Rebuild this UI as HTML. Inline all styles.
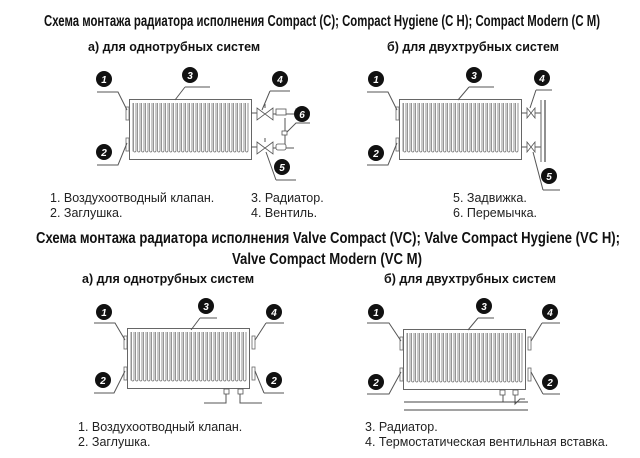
<!DOCTYPE html>
<html><head><meta charset="utf-8"><style>
html,body{margin:0;padding:0;background:#fff;width:640px;height:458px;overflow:hidden}
svg{display:block}
.t{font-family:"Liberation Sans",sans-serif;font-weight:bold;font-size:16px;fill:#111}
.s{font-family:"Liberation Sans",sans-serif;font-weight:bold;font-size:12.5px;fill:#111}
.l{font-family:"Liberation Sans",sans-serif;font-size:12.5px;fill:#222}
.b{font-family:"Liberation Sans",sans-serif;font-weight:bold;font-style:italic;font-size:10px;fill:#fff;text-anchor:middle}
.ln{stroke:#555;stroke-width:1;fill:none}
</style></head><body>
<svg width="640" height="458" viewBox="0 0 640 458" xmlns="http://www.w3.org/2000/svg">
<defs>
<pattern id="fin" x="0" y="0" width="4" height="60" patternUnits="userSpaceOnUse">
<rect x="0.5" y="0" width="2.5" height="53" rx="1.2" fill="#fff" stroke="#666" stroke-width="0.7"/>
</pattern>
<g id="rad">
<rect x="0.5" y="0.5" width="122" height="60" fill="#fff" stroke="#666" stroke-width="1"/>
<rect x="3" y="4" width="117" height="53" fill="url(#fin)"/>
</g>
</defs>
<text class="t" x="44" y="26" textLength="556" lengthAdjust="spacingAndGlyphs">Схема монтажа радиатора исполнения Compact (C); Compact Hygiene (C H); Compact Modern (C M)</text>
<text class="s" x="88" y="51">а) для однотрубных систем</text>
<text class="s" x="387" y="51">б) для двухтрубных систем</text>

<!-- top left -->
<use href="#rad" x="129" y="99"/>
<rect x="126" y="107" width="3" height="13" fill="#fff" stroke="#666" stroke-width="0.8"/>
<rect x="126" y="138" width="3" height="13" fill="#fff" stroke="#666" stroke-width="0.8"/>
<path class="ln" d="M97,92 H118 L127,110 M97,165 H118 L127,143 M185,87 H210 M185,87 L175,100 M251,113 H257 M251,147 H257"/>
<path class="ln" d="M270,91 H290 M270,91 L262,110 M276,180 H296 M276,180 L266,152"/>
<path d="M257,108 L265,114 L257,120 Z M273,108 L265,114 L273,120 Z M257,142 L265,148 L257,154 Z M273,142 L265,148 L273,154 Z" fill="#fff" stroke="#555" stroke-width="0.8"/>
<path class="ln" d="M265,108 V104 M265,142 V138 M273,114 H294 M273,148 H294 M285,118 V144 M296,112 H310 M296,116 V109 H300"/>
<rect x="276" y="109" width="10" height="6" fill="#fff" stroke="#555" stroke-width="0.8"/>
<rect x="276" y="144" width="10" height="6" rx="2" fill="#fff" stroke="#555" stroke-width="0.8"/>
<rect x="282" y="131" width="5" height="4" fill="#fff" stroke="#555" stroke-width="0.8"/>
<path class="ln" d="M287,132 L296,123 H310 M288,114 H294 M288,148 H294"/>

<!-- top right -->
<use href="#rad" x="399" y="99"/>
<rect x="396" y="107" width="3" height="13" fill="#fff" stroke="#666" stroke-width="0.8"/>
<rect x="396" y="138" width="3" height="13" fill="#fff" stroke="#666" stroke-width="0.8"/>
<path class="ln" d="M367,92 H388 L397,110 M367,165 H388 L397,143 M469,87 H494 M469,87 L458,100 M521,113 H527 M521,147 H527 M535,113 H541 M535,147 H541"/>
<path d="M527,108 L531,113 L527,118 Z M535,108 L531,113 L535,118 Z M527,142 L531,147 L527,152 Z M535,142 L531,147 L535,152 Z" fill="#fff" stroke="#555" stroke-width="0.8"/>
<path class="ln" d="M536,90 H552 M536,90 L530,108 M543,190 H560 M543,190 L533,152"/>
<path d="M541,100 V162" stroke="#666" stroke-width="1"/>
<path d="M545,100 V162" stroke="#222" stroke-width="1"/>

<!-- list top -->
<text class="l" x="50" y="202">1. Воздухоотводный клапан.</text>
<text class="l" x="50" y="217">2. Заглушка.</text>
<text class="l" x="251" y="202">3. Радиатор.</text>
<text class="l" x="251" y="217">4. Вентиль.</text>
<text class="l" x="453" y="202">5. Задвижка.</text>
<text class="l" x="453" y="217">6. Перемычка.</text>

<text class="t" x="36" y="243" textLength="584" lengthAdjust="spacingAndGlyphs">Схема монтажа радиатора исполнения Valve Compact (VC); Valve Compact Hygiene (VC H);</text>
<text class="t" x="232" y="264" textLength="190" lengthAdjust="spacingAndGlyphs">Valve Compact Modern (VC M)</text>
<text class="s" x="82" y="283">а) для однотрубных систем</text>
<text class="s" x="384" y="283">б) для двухтрубных систем</text>

<!-- bottom left -->
<use href="#rad" x="127" y="328"/>
<rect x="124" y="336" width="3" height="13" fill="#fff" stroke="#666" stroke-width="0.8"/>
<rect x="124" y="367" width="3" height="13" fill="#fff" stroke="#666" stroke-width="0.8"/>
<rect x="252" y="336" width="3" height="13" fill="#fff" stroke="#666" stroke-width="0.8"/>
<rect x="252" y="367" width="3" height="13" fill="#fff" stroke="#666" stroke-width="0.8"/>
<path class="ln" d="M94,323 H115 L125,340 M94,393 H114 L125,371 M200,318 H217 M200,318 L191,330 M266,323 H284 M266,323 L255,340 M264,393 H284 M264,393 L255,371"/>
<rect x="224" y="389" width="5" height="5" fill="#fff" stroke="#555" stroke-width="0.8"/>
<rect x="238" y="389" width="5" height="5" fill="#fff" stroke="#555" stroke-width="0.8"/>
<path class="ln" d="M226,394 V403 H204 M240,394 V403 H262"/>

<!-- bottom right -->
<use href="#rad" x="403" y="329"/>
<rect x="400" y="337" width="3" height="13" fill="#fff" stroke="#666" stroke-width="0.8"/>
<rect x="400" y="368" width="3" height="13" fill="#fff" stroke="#666" stroke-width="0.8"/>
<rect x="528" y="337" width="3" height="13" fill="#fff" stroke="#666" stroke-width="0.8"/>
<rect x="528" y="368" width="3" height="13" fill="#fff" stroke="#666" stroke-width="0.8"/>
<path class="ln" d="M367,323 H389 L401,341 M367,394 H389 L401,372 M478,318 H494 M478,318 L468,330 M542,323 H560 M542,323 L531,341 M543,394 H560 M543,394 L531,372"/>
<rect x="500" y="390" width="5" height="5" fill="#fff" stroke="#555" stroke-width="0.8"/>
<rect x="513" y="390" width="5" height="5" fill="#fff" stroke="#555" stroke-width="0.8"/>
<path class="ln" d="M503,395 V402 M515,395 V404 L520,399 H525"/>
<path d="M404,402 H528 M404,410 H528" stroke="#444" stroke-width="1"/>

<!-- bubbles -->
<g fill="#111">
<circle cx="104" cy="79" r="8"/><circle cx="190" cy="75" r="8"/><circle cx="280" cy="79" r="8"/><circle cx="302" cy="114" r="8"/><circle cx="104" cy="152" r="8"/><circle cx="282" cy="167" r="8"/>
<circle cx="376" cy="79" r="8"/><circle cx="474" cy="75" r="8"/><circle cx="542" cy="78" r="8"/><circle cx="376" cy="153" r="8"/><circle cx="549" cy="176" r="8"/>
<circle cx="104" cy="312" r="8"/><circle cx="206" cy="306" r="8"/><circle cx="274" cy="312" r="8"/><circle cx="103" cy="380" r="8"/><circle cx="274" cy="380" r="8"/>
<circle cx="376" cy="312" r="8"/><circle cx="484" cy="306" r="8"/><circle cx="550" cy="312" r="8"/><circle cx="376" cy="382" r="8"/><circle cx="550" cy="382" r="8"/>
</g>
<g>
<text x="104" y="83" class="b">1</text><text x="190" y="79" class="b">3</text><text x="280" y="83" class="b">4</text><text x="302" y="118" class="b">6</text><text x="104" y="156" class="b">2</text><text x="282" y="171" class="b">5</text>
<text x="376" y="83" class="b">1</text><text x="474" y="79" class="b">3</text><text x="542" y="82" class="b">4</text><text x="376" y="157" class="b">2</text><text x="549" y="180" class="b">5</text>
<text x="104" y="316" class="b">1</text><text x="206" y="310" class="b">3</text><text x="274" y="316" class="b">4</text><text x="103" y="384" class="b">2</text><text x="274" y="384" class="b">2</text>
<text x="376" y="316" class="b">1</text><text x="484" y="310" class="b">3</text><text x="550" y="316" class="b">4</text><text x="376" y="386" class="b">2</text><text x="550" y="386" class="b">2</text>
</g>

<text class="l" x="78" y="431">1. Воздухоотводный клапан.</text>
<text class="l" x="78" y="446">2. Заглушка.</text>
<text class="l" x="365" y="431">3. Радиатор.</text>
<text class="l" x="365" y="446">4. Термостатическая вентильная вставка.</text>
</svg>
</body></html>
